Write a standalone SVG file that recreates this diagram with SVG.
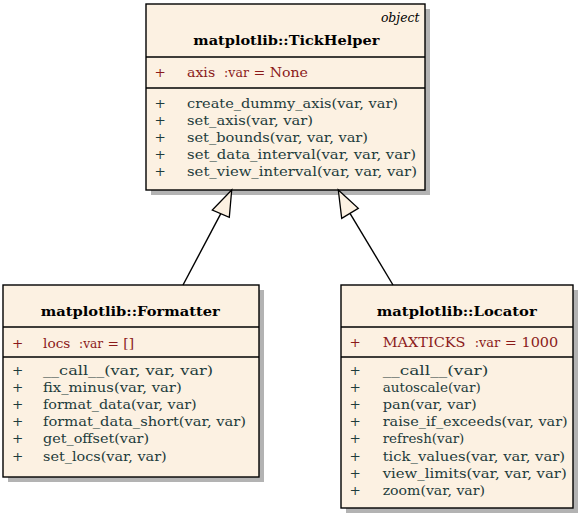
<svg xmlns="http://www.w3.org/2000/svg" width="580" height="515" viewBox="0 0 580 515" font-family="'DejaVu Serif', 'Liberation Serif', serif" font-size="13.5">
<style>
.shadow{fill:#b3b3b3}
.box{fill:#fcf1e2;stroke:#000;stroke-width:1.4}
.sep{stroke:#000;stroke-width:1.4}
.title{font-weight:bold;text-anchor:middle;fill:#000}
.stereo{font-style:italic;text-anchor:end;fill:#000;font-size:13px}
.attr{fill:#8b1a1a}
.meth{fill:#1e3c3c}
.small{font-size:12px}
.conn{stroke:#000;stroke-width:1.4;fill:none}
.head{fill:#fcf1e2;stroke:#000;stroke-width:1.3;stroke-linejoin:miter}
</style>
<rect width="580" height="515" fill="#fff"/>
<g id="TickHelper">
<rect class="shadow" x="151" y="9" width="279" height="186"/>
<rect class="box" x="146" y="4" width="279" height="186"/>
<line class="sep" x1="146" y1="57" x2="425" y2="57"/>
<line class="sep" x1="146" y1="88" x2="425" y2="88"/>
<text class="stereo" x="419.5" y="22" textLength="38.6" lengthAdjust="spacingAndGlyphs">object</text>
<text class="title" x="286.3" y="44.5" textLength="186" lengthAdjust="spacingAndGlyphs">matplotlib::TickHelper</text>
<text class="attr" x="154.5" y="77">+</text>
<text class="attr" x="187" y="77" textLength="121" lengthAdjust="spacingAndGlyphs" xml:space="preserve">axis  <tspan class="small">:var</tspan> = None</text>
<text class="meth" x="154.5" y="107.5">+</text>
<text class="meth" x="187" y="107.5" textLength="211" lengthAdjust="spacingAndGlyphs">create_dummy_axis(var, var)</text>
<text class="meth" x="154.5" y="124.7">+</text>
<text class="meth" x="187" y="124.7" textLength="126" lengthAdjust="spacingAndGlyphs">set_axis(var, var)</text>
<text class="meth" x="154.5" y="141.9">+</text>
<text class="meth" x="187" y="141.9" textLength="181" lengthAdjust="spacingAndGlyphs">set_bounds(var, var, var)</text>
<text class="meth" x="154.5" y="159.1">+</text>
<text class="meth" x="187" y="159.1" textLength="229" lengthAdjust="spacingAndGlyphs">set_data_interval(var, var, var)</text>
<text class="meth" x="154.5" y="176.3">+</text>
<text class="meth" x="187" y="176.3" textLength="230" lengthAdjust="spacingAndGlyphs">set_view_interval(var, var, var)</text>
</g>
<g id="Formatter">
<rect class="shadow" x="8" y="290" width="256" height="192"/>
<rect class="box" x="3" y="285" width="256" height="192"/>
<line class="sep" x1="3" y1="327" x2="259" y2="327"/>
<line class="sep" x1="3" y1="357" x2="259" y2="357"/>
<text class="title" x="130.3" y="315.5" textLength="179" lengthAdjust="spacingAndGlyphs">matplotlib::Formatter</text>
<text class="attr" x="12" y="347.5">+</text>
<text class="attr" x="43" y="347.5" textLength="91" lengthAdjust="spacingAndGlyphs" xml:space="preserve">locs  <tspan class="small">:var</tspan> = []</text>
<text class="meth" x="12" y="374.5">+</text>
<text class="meth" x="43" y="374.5" textLength="170" lengthAdjust="spacingAndGlyphs">__call__(var, var, var)</text>
<text class="meth" x="12" y="391.7">+</text>
<text class="meth" x="43" y="391.7" textLength="138.7" lengthAdjust="spacingAndGlyphs">fix_minus(var, var)</text>
<text class="meth" x="12" y="408.9">+</text>
<text class="meth" x="43" y="408.9" textLength="153.7" lengthAdjust="spacingAndGlyphs">format_data(var, var)</text>
<text class="meth" x="12" y="426.1">+</text>
<text class="meth" x="43" y="426.1" textLength="203" lengthAdjust="spacingAndGlyphs">format_data_short(var, var)</text>
<text class="meth" x="12" y="443.3">+</text>
<text class="meth" x="43" y="443.3" textLength="106" lengthAdjust="spacingAndGlyphs">get_offset(var)</text>
<text class="meth" x="12" y="460.5">+</text>
<text class="meth" x="43" y="460.5" textLength="123.7" lengthAdjust="spacingAndGlyphs">set_locs(var, var)</text>
</g>
<g id="Locator">
<rect class="shadow" x="346" y="290" width="232" height="223"/>
<rect class="box" x="341" y="285" width="232" height="223"/>
<line class="sep" x1="341" y1="327" x2="573" y2="327"/>
<line class="sep" x1="341" y1="357" x2="573" y2="357"/>
<text class="title" x="456.7" y="315.5" textLength="160" lengthAdjust="spacingAndGlyphs">matplotlib::Locator</text>
<text class="attr" x="349.5" y="346.5">+</text>
<text class="attr" x="382.7" y="346.5" textLength="175.6" lengthAdjust="spacingAndGlyphs" xml:space="preserve">MAXTICKS  <tspan class="small">:var</tspan> = 1000</text>
<text class="meth" x="349.5" y="374.5">+</text>
<text class="meth" x="382.7" y="374.5" textLength="105.6" lengthAdjust="spacingAndGlyphs">__call__(var)</text>
<text class="meth" x="349.5" y="391.7">+</text>
<text class="meth" x="382.7" y="391.7" textLength="98" lengthAdjust="spacingAndGlyphs">autoscale(var)</text>
<text class="meth" x="349.5" y="408.9">+</text>
<text class="meth" x="382.7" y="408.9" textLength="94" lengthAdjust="spacingAndGlyphs">pan(var, var)</text>
<text class="meth" x="349.5" y="426.1">+</text>
<text class="meth" x="382.7" y="426.1" textLength="185" lengthAdjust="spacingAndGlyphs">raise_if_exceeds(var, var)</text>
<text class="meth" x="349.5" y="443.3">+</text>
<text class="meth" x="382.7" y="443.3" textLength="81.6" lengthAdjust="spacingAndGlyphs">refresh(var)</text>
<text class="meth" x="349.5" y="460.5">+</text>
<text class="meth" x="382.7" y="460.5" textLength="182.3" lengthAdjust="spacingAndGlyphs">tick_values(var, var, var)</text>
<text class="meth" x="349.5" y="477.7">+</text>
<text class="meth" x="382.7" y="477.7" textLength="184" lengthAdjust="spacingAndGlyphs">view_limits(var, var, var)</text>
<text class="meth" x="349.5" y="494.9">+</text>
<text class="meth" x="382.7" y="494.9" textLength="102.3" lengthAdjust="spacingAndGlyphs">zoom(var, var)</text>
</g>
<g id="connectors">
<line class="conn" x1="183" y1="285" x2="220.8" y2="213.7"/>
<polygon class="head" points="231.7,190 212.3,210 229.3,217.3"/>
<line class="conn" x1="393" y1="285" x2="350" y2="213.3"/>
<polygon class="head" points="338.3,190 341.7,218.3 358.3,208.3"/>
</g>
</svg>
